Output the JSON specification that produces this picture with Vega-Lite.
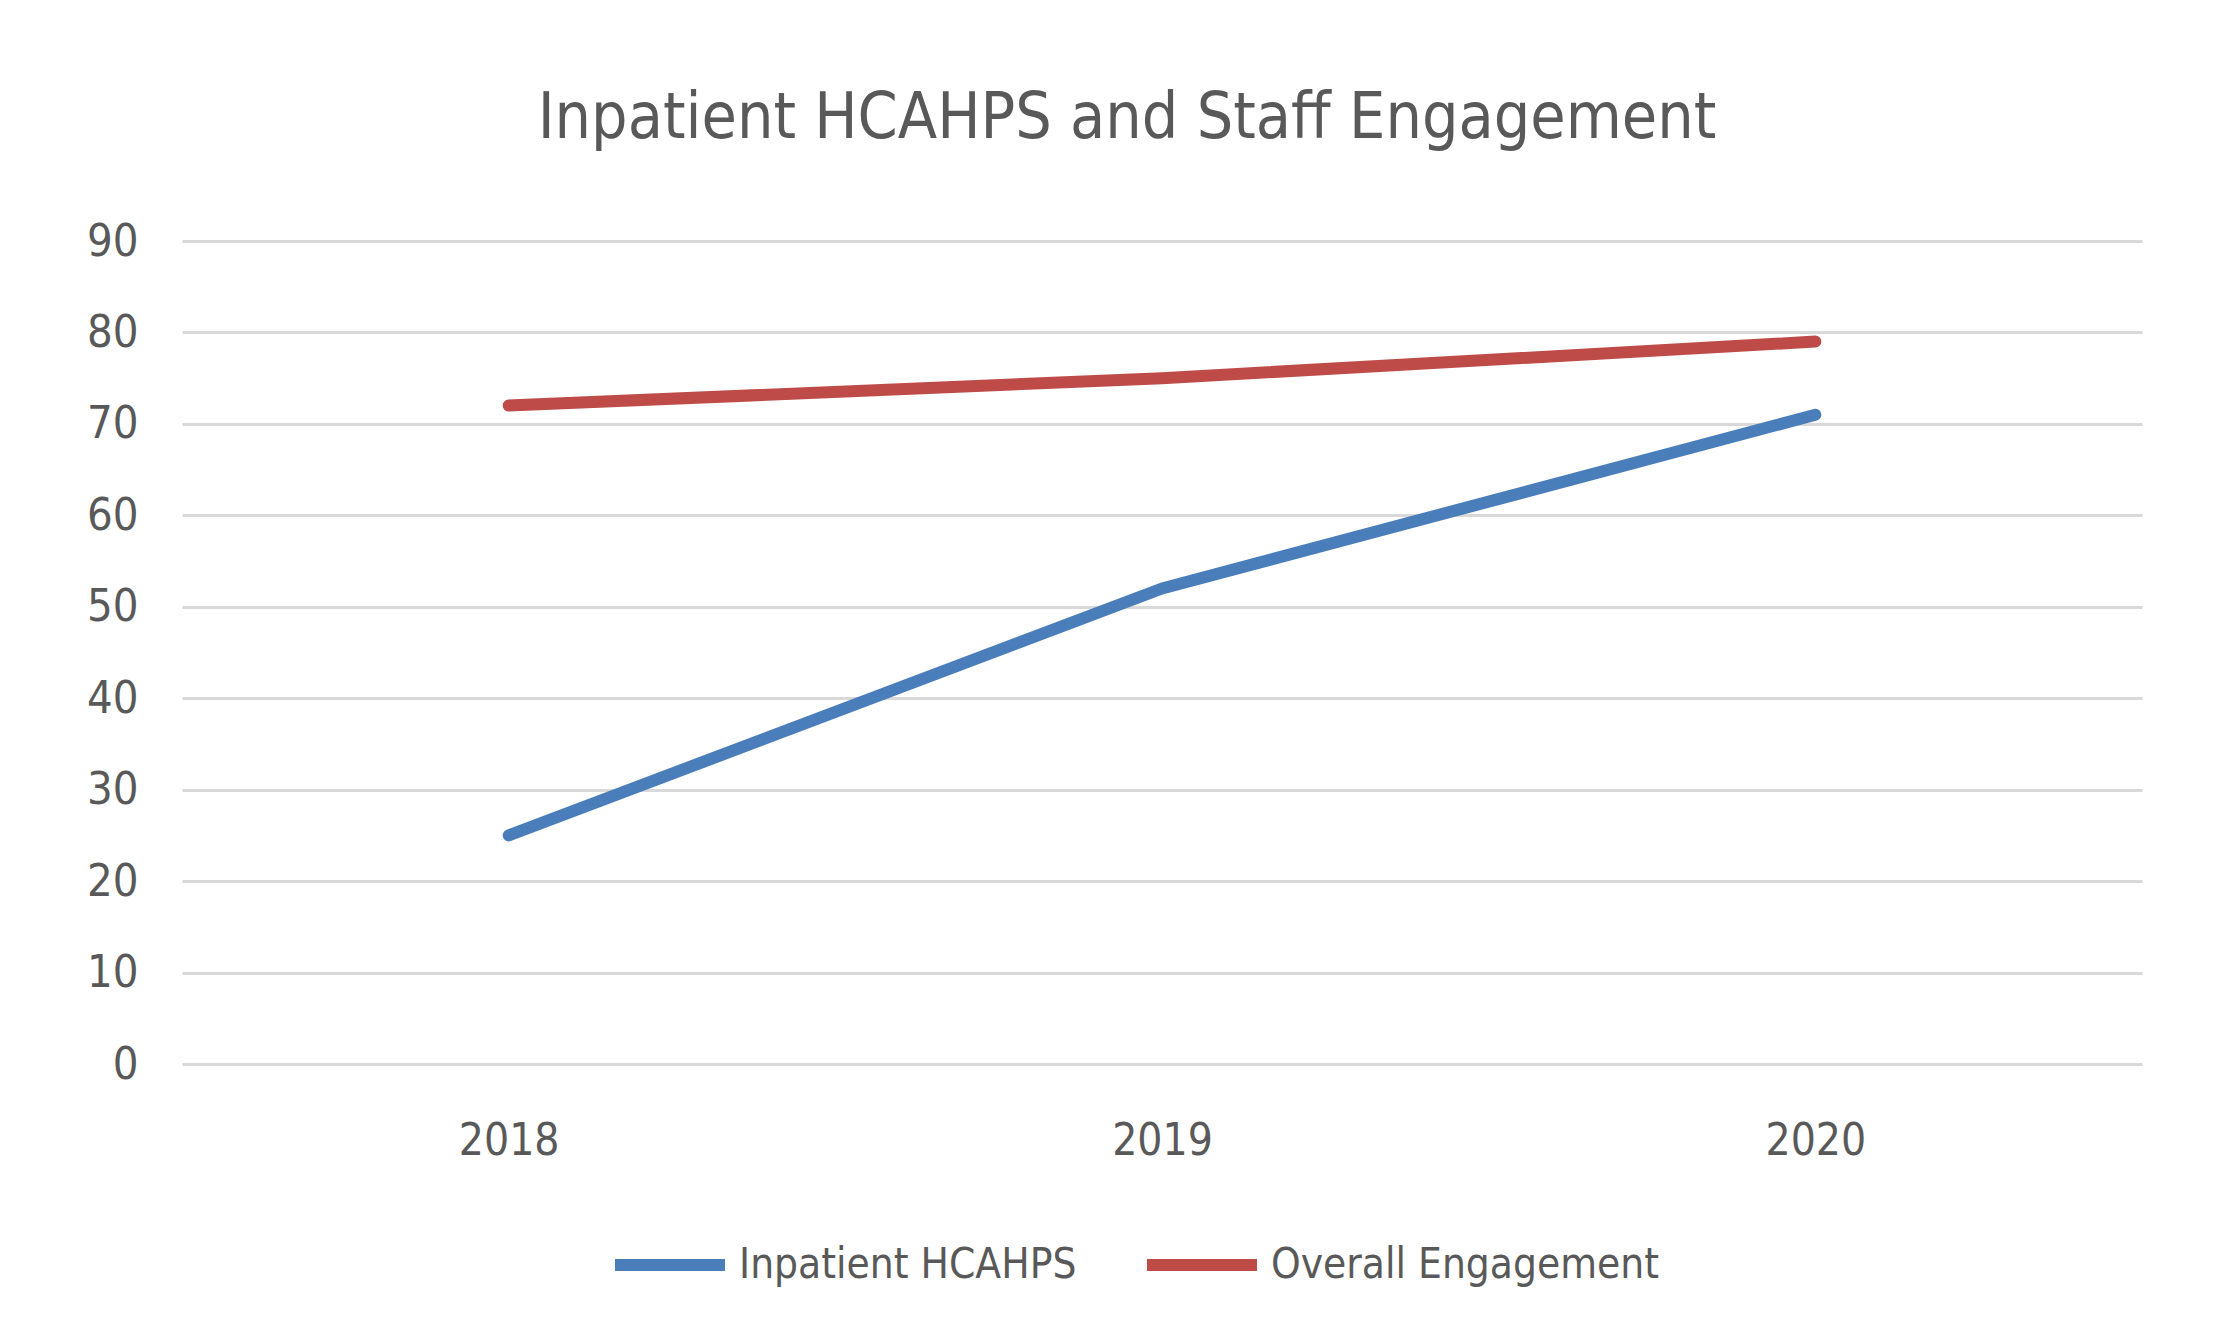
{
  "$schema": "https://vega.github.io/schema/vega-lite/v6.json",
  "width": 1960,
  "height": 823,
  "autosize": "none",
  "padding": {"left": 182, "top": 241, "right": 85, "bottom": 278},
  "background": "white",
  "title": {
    "text": "Inpatient HCAHPS and Staff Engagement",
    "font": "DejaVu Sans Condensed, sans-serif",
    "fontSize": 64,
    "fontWeight": "normal",
    "color": "#595959",
    "anchor": "middle",
    "frame": "group",
    "baseline": "alphabetic",
    "dx": -35,
    "offset": 17
  },
  "data": {
    "values": [
      {"year": "2018", "series": "Inpatient HCAHPS", "value": 25},
      {"year": "2019", "series": "Inpatient HCAHPS", "value": 52},
      {"year": "2020", "series": "Inpatient HCAHPS", "value": 71},
      {"year": "2018", "series": "Overall Engagement", "value": 72},
      {"year": "2019", "series": "Overall Engagement", "value": 75},
      {"year": "2020", "series": "Overall Engagement", "value": 79}
    ]
  },
  "mark": {"type": "line", "strokeWidth": 12, "strokeCap": "round", "strokeJoin": "round"},
  "encoding": {
    "x": {
      "field": "year",
      "type": "ordinal",
      "scale": {"type": "point", "padding": 0.5},
      "axis": {
        "title": null,
        "labelAngle": 0,
        "labelFont": "DejaVu Sans Condensed, sans-serif",
        "labelFontSize": 44,
        "labelColor": "#595959",
        "labelPadding": 55,
        "domain": false,
        "ticks": false,
        "grid": false
      }
    },
    "y": {
      "field": "value",
      "type": "quantitative",
      "scale": {"domain": [0, 90], "nice": false, "zero": true},
      "axis": {
        "title": null,
        "values": [0, 10, 20, 30, 40, 50, 60, 70, 80, 90],
        "labelFont": "DejaVu Sans Condensed, sans-serif",
        "labelFontSize": 45,
        "labelColor": "#595959",
        "labelPadding": 44,
        "domain": false,
        "ticks": false,
        "grid": true,
        "gridColor": "#d9d9d9",
        "gridWidth": 3
      }
    },
    "color": {
      "field": "series",
      "type": "nominal",
      "scale": {
        "domain": ["Inpatient HCAHPS", "Overall Engagement"],
        "range": ["#4a7ebb", "#be4b48"]
      },
      "legend": {
        "title": null,
        "orient": "none",
        "direction": "horizontal",
        "legendX": 427,
        "legendY": 963,
        "symbolType": "stroke",
        "symbolSize": 12100,
        "symbolStrokeWidth": 12,
        "labelOffset": 8,
        "columnPadding": 46,
        "labelLimit": 0,
        "labelFont": "DejaVu Sans Condensed, sans-serif",
        "labelFontSize": 42,
        "labelColor": "#595959"
      }
    }
  },
  "config": {"view": {"stroke": null}}
}
